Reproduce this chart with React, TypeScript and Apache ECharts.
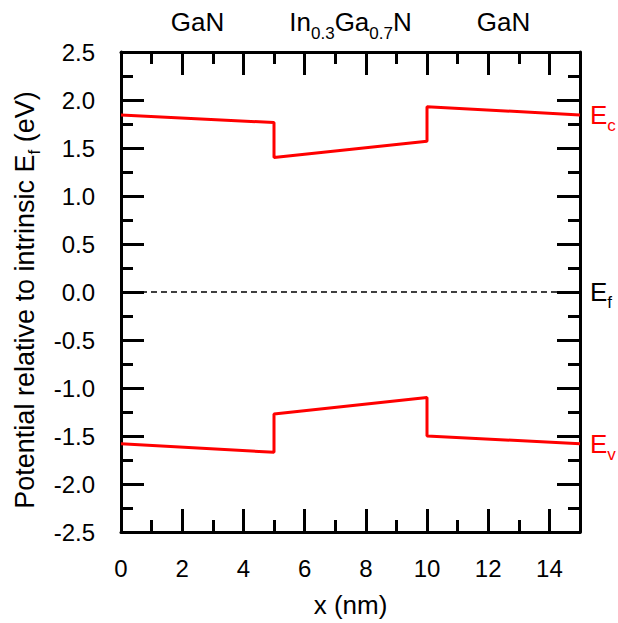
import React, { useEffect, useRef } from "react";
import * as echarts from "echarts";

// Data
const xPoints = [0, 5, 5, 10, 10, 15];
const ecValues = [1.845, 1.765, 1.40, 1.57, 1.93, 1.845];
const evValues = [-1.58, -1.67, -1.27, -1.10, -1.50, -1.58];
const efX = [0, 15];
const efValues = [0, 0];
const layerCenters = [2.5, 7.5, 12.5];
const layerLabels = ["{t|GaN}", "{t|In}{s|0.3}{t|Ga}{s|0.7}{t|N}", "{t|GaN}"];

const FONT = "'Liberation Sans', Arial, Helvetica, sans-serif";
const BLACK = "#000";
const RED = "#ff0000";

const zip = (xs: number[], ys: number[]) => xs.map((x, i) => [x, ys[i]]);

const subRich = (color: string) => ({
  e: { fontSize: 26, height: 26, lineHeight: 32, verticalAlign: "top", color, fontFamily: FONT },
  s: { fontSize: 17, height: 17, padding: [15, 0, 0, 0], verticalAlign: "top", color, fontFamily: FONT },
});

export default function App() {
  const ref = useRef<HTMLDivElement>(null);
  useEffect(() => {
    if (!ref.current) return;
    const chart = echarts.init(ref.current, null, { renderer: "svg" });
    const lineW = 3;
    const majorX = (pos: "bottom" | "top", withLabels: boolean) => ({
      type: "value",
      position: pos,
      min: 0,
      max: 15,
      interval: 2,
      axisLine: { show: true, onZero: false, lineStyle: { color: BLACK, width: lineW } },
      axisTick: { show: true, inside: true, length: 23, lineStyle: { color: BLACK, width: lineW } },
      splitLine: { show: false },
      axisLabel: withLabels
        ? {
            show: true,
            margin: 24,
            fontSize: 24,
            color: BLACK,
            fontFamily: FONT,
            formatter: (v: number) => (v === 15 ? "" : String(v)),
          }
        : { show: false },
    });
    const minorX = (pos: "bottom" | "top") => ({
      type: "value",
      position: pos,
      min: 0,
      max: 15,
      interval: 1,
      axisLine: { show: false, onZero: false },
      axisTick: { show: true, inside: true, length: 12, lineStyle: { color: BLACK, width: lineW } },
      splitLine: { show: false },
      axisLabel: { show: false },
    });
    const yAx = (pos: "left" | "right", withLabels: boolean) => ({
      type: "value",
      position: pos,
      min: -2.5,
      max: 2.5,
      interval: 0.5,
      axisLine: { show: true, onZero: false, lineStyle: { color: BLACK, width: lineW } },
      axisTick: { show: true, inside: true, length: 23, lineStyle: { color: BLACK, width: lineW } },
      minorTick: { show: true, splitNumber: 2, length: 12, lineStyle: { color: BLACK, width: lineW } },
      splitLine: { show: false },
      minorSplitLine: { show: false },
      axisLabel: withLabels
        ? {
            show: true,
            margin: 26,
            fontSize: 24,
            color: BLACK,
            fontFamily: FONT,
            formatter: (v: number) => v.toFixed(1),
          }
        : { show: false },
      ...(withLabels
        ? {
            name: "{n|Potential relative to intrinsic E}{s|f}{n| (eV)}",
            nameLocation: "middle",
            nameGap: 77,
            nameTextStyle: {
              padding: [0, 16, 0, 0],
              rich: {
                n: { fontSize: 27, height: 27, lineHeight: 31, verticalAlign: "top", color: BLACK, fontFamily: FONT },
                s: { fontSize: 17, height: 17, padding: [14, 0, 0, 0], verticalAlign: "top", color: BLACK, fontFamily: FONT },
              },
            },
          }
        : {}),
    });

    chart.setOption({
      animation: false,
      backgroundColor: "#fff",
      grid: { left: 121, right: 38, top: 52, bottom: 90, containLabel: false },
      xAxis: [
        {
          ...majorX("bottom", true),
          name: "x (nm)",
          nameLocation: "middle",
          nameGap: 60,
          nameTextStyle: { fontSize: 26, color: BLACK, fontFamily: FONT },
        },
        minorX("bottom"),
        majorX("top", false),
        minorX("top"),
        {
          type: "value",
          position: "top",
          min: 0,
          max: 15,
          interval: 2.5,
          axisLine: { show: false, onZero: false },
          axisTick: { show: false },
          splitLine: { show: false },
          axisLabel: {
            show: true,
            margin: 10,
            formatter: (v: number) => {
              const i = layerCenters.indexOf(v);
              return i >= 0 ? layerLabels[i] : "";
            },
            rich: {
              t: { fontSize: 26, height: 26, lineHeight: 33, verticalAlign: "top", color: BLACK, fontFamily: FONT },
              s: { fontSize: 17, height: 17, padding: [16, 0, 0, 0], verticalAlign: "top", color: BLACK, fontFamily: FONT },
            },
          },
        },
      ],
      yAxis: [yAx("left", true), yAx("right", false)],
      series: [
        {
          type: "line",
          xAxisIndex: 0,
          yAxisIndex: 0,
          data: zip(xPoints, ecValues),
          showSymbol: false,
          symbol: "none",
          lineStyle: { color: RED, width: 3 },
          endLabel: { show: true, formatter: "{e|E}{s|c}", distance: 10, offset: [0, 3], rich: subRich(RED) },
        },
        {
          type: "line",
          xAxisIndex: 0,
          yAxisIndex: 0,
          data: zip(efX, efValues),
          showSymbol: false,
          symbol: "none",
          lineStyle: { color: BLACK, width: 1.3, type: [6, 4] },
          endLabel: { show: true, formatter: "{e|E}{s|f}", distance: 10, offset: [0, 3], rich: subRich(BLACK) },
        },
        {
          type: "line",
          xAxisIndex: 0,
          yAxisIndex: 0,
          data: zip(xPoints, evValues),
          showSymbol: false,
          symbol: "none",
          lineStyle: { color: RED, width: 3 },
          endLabel: { show: true, formatter: "{e|E}{s|v}", distance: 10, offset: [0, 3], rich: subRich(RED) },
        },
      ],
    });
    return () => chart.dispose();
  }, []);
  return (
    <div
      ref={ref}
      style={{ position: "fixed", left: 0, top: 0, width: 618, height: 623, background: "#fff" }}
    />
  );
}
